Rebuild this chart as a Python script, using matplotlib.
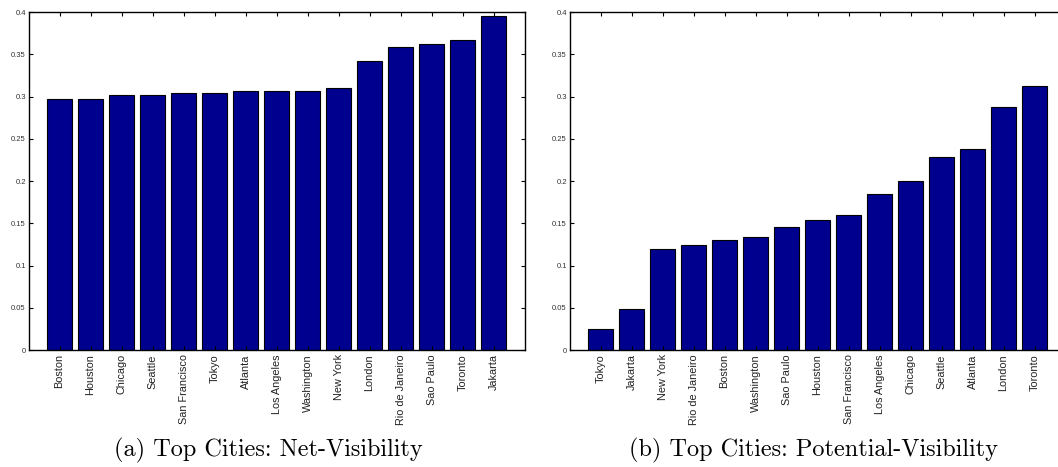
import matplotlib
matplotlib.use("Agg")
import matplotlib.pyplot as plt
import numpy as np

# net-visibility per city (sorted ascending)
net_cities = ["Boston", "Houston", "Chicago", "Seattle", "San Francisco", "Tokyo",
              "Atlanta", "Los Angeles", "Washington", "New York", "London",
              "Rio de Janeiro", "Sao Paulo", "Toronto", "Jakarta"]
net_vals = [0.297, 0.297, 0.302, 0.302, 0.304, 0.304, 0.307, 0.307, 0.307,
            0.310, 0.342, 0.359, 0.362, 0.367, 0.395]

# potential-visibility per city (sorted ascending)
pot_cities = ["Tokyo", "Jakarta", "New York", "Rio de Janeiro", "Boston",
              "Washington", "Sao Paulo", "Houston", "San Francisco",
              "Los Angeles", "Chicago", "Seattle", "Atlanta", "London", "Toronto"]
pot_vals = [0.025, 0.049, 0.120, 0.124, 0.130, 0.134, 0.146, 0.154, 0.160,
            0.185, 0.200, 0.229, 0.238, 0.288, 0.312]

yticks = [0, 0.05, 0.1, 0.15, 0.2, 0.25, 0.3, 0.35, 0.4]
ytick_labels = ["0", "0.05", "0.1", "0.15", "0.2", "0.25", "0.3", "0.35", "0.4"]

captions = ["(a) Top Cities: Net-Visibility", "(b) Top Cities: Potential-Visibility"]

bar_color = "#00008f"

fig = plt.figure(figsize=(10.58, 4.67), dpi=100)
ax1 = fig.add_axes([0.027, 0.2505, 0.4688, 0.7238])
ax2 = fig.add_axes([0.5384, 0.2505, 0.4688, 0.7238])


def draw_panel(ax, cities, vals):
    x = np.arange(1, len(cities) + 1)
    ax.bar(x, vals, width=0.82, color=bar_color, edgecolor="black", linewidth=0.8)
    ax.set_xlim(0, len(cities) + 1)
    ax.set_ylim(0, 0.4)
    ax.set_xticks(x)
    ax.set_xticklabels(cities, rotation=90, fontsize=7.8, family="Liberation Sans",
                       color="#222222")
    ax.set_yticks(yticks)
    ax.set_yticklabels(ytick_labels, fontsize=5.5, family="Liberation Sans",
                       color="#333333")
    ax.tick_params(axis="both", direction="in", length=3, width=0.8,
                   top=True, right=True, pad=2)
    ax.tick_params(axis="x", pad=3)
    for s in ax.spines.values():
        s.set_linewidth(1.0)


draw_panel(ax1, net_cities, net_vals)
draw_panel(ax2, pot_cities, pot_vals)

fig.text(0.2535, 0.022, captions[0], ha="center", va="baseline", fontsize=17.5,
         family=["cmr10", "DejaVu Serif"])
fig.text(0.769, 0.022, captions[1], ha="center", va="baseline", fontsize=17.5,
         family=["cmr10", "DejaVu Serif"])

fig.savefig("out.png", dpi=100)
